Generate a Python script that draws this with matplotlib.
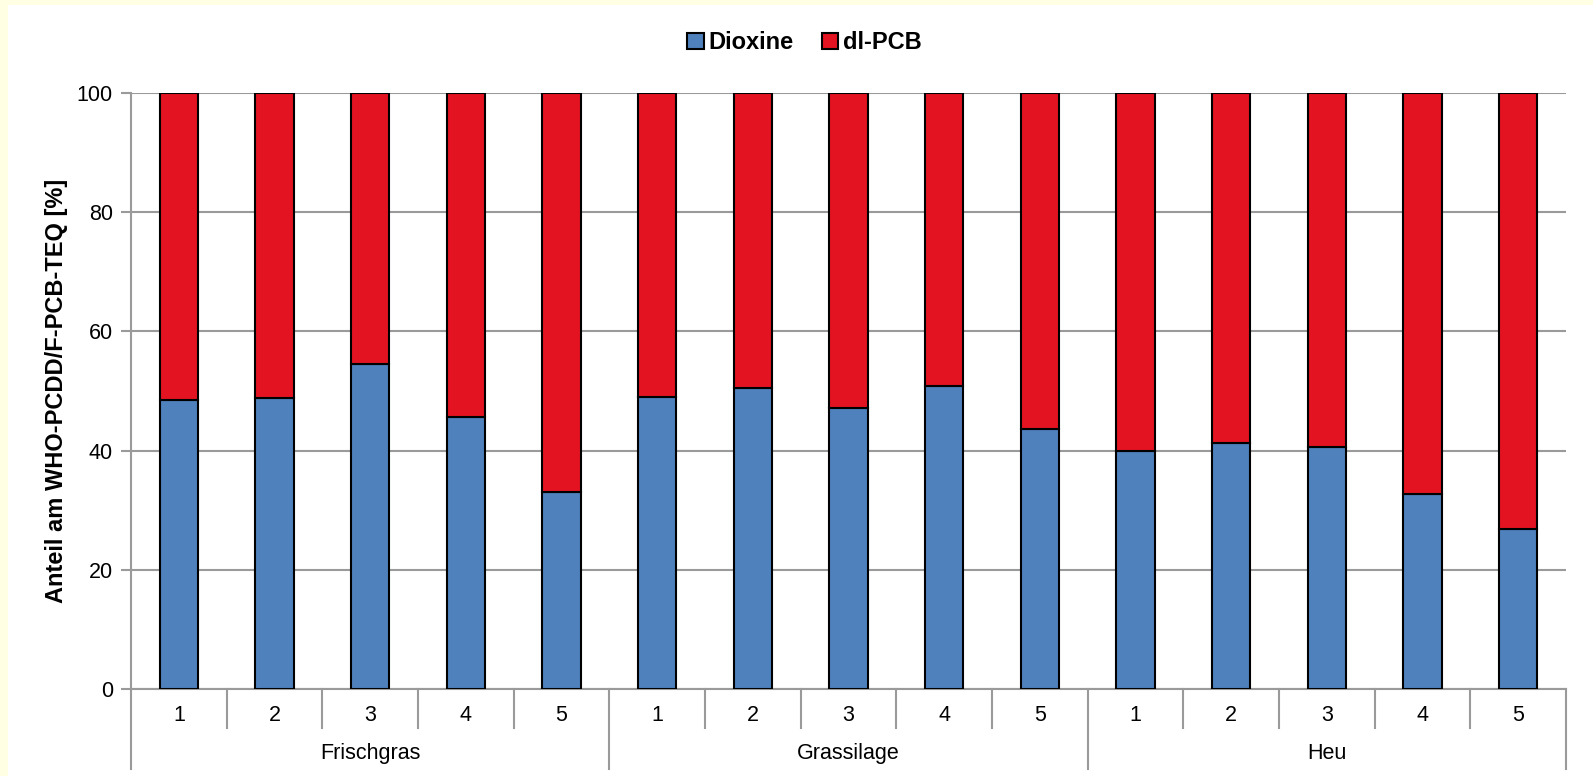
import numpy as np
from matplotlib import pyplot as plt
from matplotlib.patches import Rectangle
import matplotlib.transforms as mtransforms

plt.rcParams["font.family"] = ["Liberation Sans", "DejaVu Sans"]

gruppen = ["Frischgras", "Grassilage", "Heu"]
proben = ["1", "2", "3", "4", "5"]
dioxine = [48.5, 48.8, 54.6, 45.7, 33.0,
           49.0, 50.5, 47.1, 50.9, 43.7,
           40.0, 41.3, 40.6, 32.7, 26.9]
dl_pcb = [100 - v for v in dioxine]

BLAU = "#4F81BD"
ROT = "#E31322"
GRAU = "#9A9A9A"
GELB = "#FFFFE3"

fig = plt.figure(figsize=(15.93, 7.76), dpi=100, facecolor="white")
# gelber Rand oben und links
fig.patches.append(Rectangle((0, 0), 8 / 1593, 1, transform=fig.transFigure,
                             facecolor=GELB, edgecolor="none"))
fig.patches.append(Rectangle((0, 1 - 5 / 776), 1, 5 / 776, transform=fig.transFigure,
                             facecolor=GELB, edgecolor="none"))
ax = fig.add_axes([131 / 1593, 87 / 776, 1435 / 1593, 596 / 776])
ax.set_facecolor("white")

x = np.arange(len(dioxine))
ax.bar(x, dioxine, width=0.4, color=BLAU, edgecolor="black", linewidth=1.5, label="Dioxine", zorder=3)
ax.bar(x, dl_pcb, width=0.4, bottom=dioxine, color=ROT, edgecolor="black", linewidth=1.5,
       label="dl-PCB", zorder=3)

ax.set_xlim(-0.5, len(dioxine) - 0.5)
ax.set_ylim(0, 100)
ax.set_yticks(range(0, 101, 20))
ax.yaxis.grid(True, color=GRAU, linewidth=1.5)
ax.set_axisbelow(True)
for s in ["top", "right"]:
    ax.spines[s].set_visible(False)
for s in ["left", "bottom"]:
    ax.spines[s].set_color(GRAU)
    ax.spines[s].set_linewidth(1.5)
ax.tick_params(axis="y", length=7, width=1.5, color=GRAU, labelsize=15.5, pad=6)
ax.set_xticks([])
ax.text(-0.052, 0.5, "Anteil am WHO-PCDD/F-PCB-TEQ [%]", transform=ax.transAxes, rotation=90,
        ha="center", va="center", fontsize=17, fontweight="bold")

# zweistufige Kategorienachse
trans = mtransforms.blended_transform_factory(ax.transData, ax.transAxes)
for i in range(len(dioxine) + 1):
    pos = i - 0.5
    unten = -0.134 if i % len(proben) == 0 else -0.0655
    ax.plot([pos, pos], [0, unten], transform=trans, color=GRAU, linewidth=1.5, clip_on=False)
for i in x:
    ax.text(i, -0.044, proben[i % len(proben)], transform=trans, ha="center", va="center", fontsize=15.5)
for g, name in enumerate(gruppen):
    mitte = g * len(proben) + (len(proben) - 1) / 2
    ax.text(mitte, -0.108, name, transform=trans, ha="center", va="center", fontsize=15.5)

fig.legend(loc="center", bbox_to_anchor=(0.505, 0.945), ncol=2, frameon=False,
           prop={"weight": "bold", "size": 17}, handlelength=0.7, handleheight=0.7,
           handletextpad=0.2, columnspacing=1.2)

fig.savefig("out.png", dpi=100)
